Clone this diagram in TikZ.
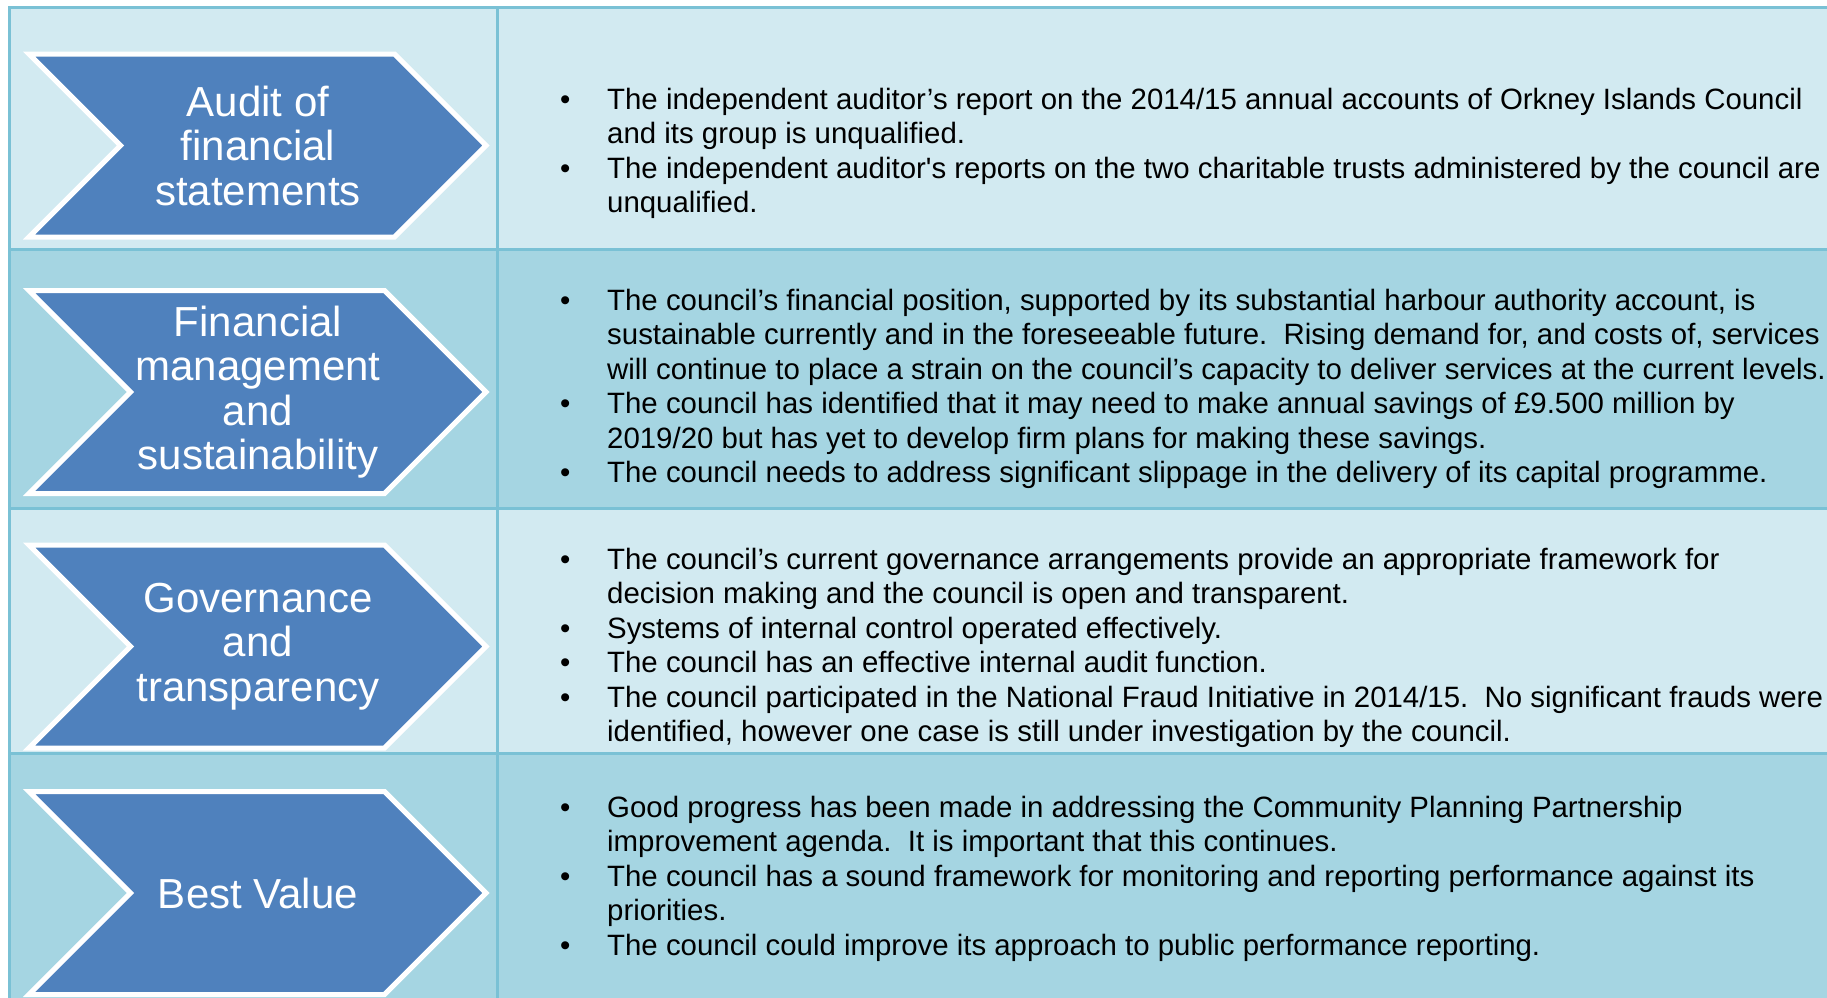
\documentclass[tikz,border=0pt]{standalone}
\usepackage{fontspec}
\setmainfont{Liberation Sans}
\definecolor{rowlight}{HTML}{D2EAF1}
\definecolor{rowdark}{HTML}{A5D5E2}
\definecolor{gridblue}{HTML}{7AC1D5}
\definecolor{chevblue}{HTML}{4F81BD}
\tikzset{
  rowline/.style={draw=gridblue, line width=3pt},
  chev/.style={fill=chevblue, draw=white, line width=5pt, line join=miter},
  chevtext/.style={text=white, align=center, inner sep=0pt, font=\fontsize{42}{44.5}\selectfont},
  notes/.style={anchor=base west, inner sep=0pt, font=\fontsize{29.4}{34.5}\selectfont}
}
\begin{document}
\begin{tikzpicture}[x=1pt, y=-1pt]
  \useasboundingbox (0,0) rectangle (1827,997);
  \clip (0,0) rectangle (1827,997);

  % table rows
  \fill[rowlight] (9,7) rectangle (1840,249);
  \fill[rowdark] (9,249) rectangle (1840,508);
  \fill[rowlight] (9,508) rectangle (1840,753);
  \fill[rowdark] (9,753) rectangle (1840,1010);
  \draw[rowline] (9,1010) -- (9,7) -- (1840,7);
  \draw[rowline] (497,7) -- (497,1010);
  \draw[rowline] (9,249) -- (1840,249);
  \draw[rowline] (9,508) -- (1840,508);
  \draw[rowline] (9,753) -- (1840,753);

  % chevrons
  \draw[chev] (29,54) -- (394.5,54) -- (486,145.5) -- (394.5,237) -- (29,237) -- (120.5,145.5) -- cycle;
  \draw[chev] (29,290.5) -- (384.5,290.5) -- (486,392) -- (384.5,493.5) -- (29,493.5) -- (130.5,392) -- cycle;
  \draw[chev] (29,545) -- (384.5,545) -- (486,646.5) -- (384.5,748) -- (29,748) -- (130.5,646.5) -- cycle;
  \draw[chev] (29,791.5) -- (384.5,791.5) -- (486,893) -- (384.5,994.5) -- (29,994.5) -- (130.5,893) -- cycle;

  \node[chevtext] (audit) at (258,145.5) {Audit of\\financial\\statements};
  \node[chevtext] (finance) at (258,392) {Financial\\management\\and\\sustainability};
  \node[chevtext] (governance) at (258,646.5) {Governance\\and\\transparency};
  \node[chevtext] (bestvalue) at (258,893) {Best Value};

  % findings
  \node[notes] (auditnotes) at (560,109) {\begin{tabular}[t]{@{}p{47pt}@{}l@{}}
    • & The independent auditor’s report on the 2014/15 annual accounts of Orkney Islands Council\\
      & and its group is unqualified.\\
    • & The independent auditor\textquotesingle s reports on the two charitable trusts administered by the council are\\
      & unqualified.
  \end{tabular}};
  \node[notes] (financenotes) at (560,310) {\begin{tabular}[t]{@{}p{47pt}@{}l@{}}
    • & The council’s financial position, supported by its substantial harbour authority account, is\\
      & sustainable currently and in the foreseeable future.\ \ Rising demand for, and costs of, services\\
      & will continue to place a strain on the council’s capacity to deliver services at the current levels.\\
    • & The council has identified that it may need to make annual savings of £9.500 million by\\
      & 2019/20 but has yet to develop firm plans for making these savings.\\
    • & The council needs to address significant slippage in the delivery of its capital programme.
  \end{tabular}};
  \node[notes] (governancenotes) at (560,569) {\begin{tabular}[t]{@{}p{47pt}@{}l@{}}
    • & The council’s current governance arrangements provide an appropriate framework for\\
      & decision making and the council is open and transparent.\\
    • & Systems of internal control operated effectively.\\
    • & The council has an effective internal audit function.\\
    • & The council participated in the National Fraud Initiative in 2014/15.\ \ No significant frauds were\\
      & identified, however one case is still under investigation by the council.
  \end{tabular}};
  \node[notes] (bestvaluenotes) at (560,817) {\begin{tabular}[t]{@{}p{47pt}@{}l@{}}
    • & Good progress has been made in addressing the Community Planning Partnership\\
      & improvement agenda.\ \ It is important that this continues.\\
    • & The council has a sound framework for monitoring and reporting performance against its\\
      & priorities.\\
    • & The council could improve its approach to public performance reporting.
  \end{tabular}};
\end{tikzpicture}
\end{document}
